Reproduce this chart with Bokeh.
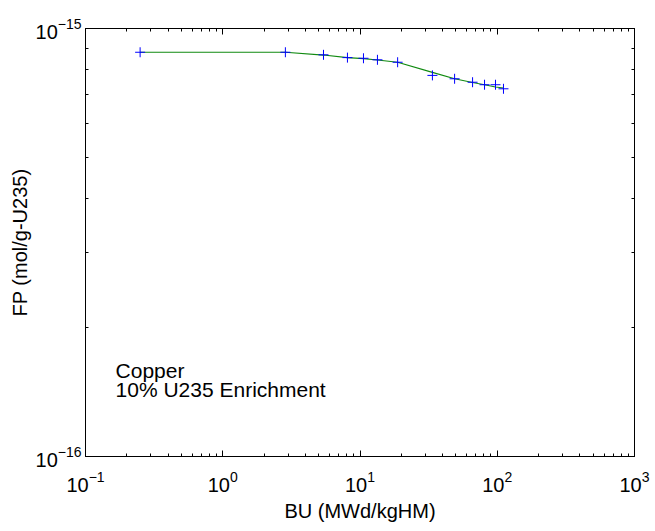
from bokeh.plotting import figure
from bokeh.models import LogAxis, FixedTicker, Label, CustomJSTickFormatter
from bokeh.embed import file_html
from bokeh.resources import INLINE

# Burnup (MWd/kgHM) at the calculated points
bu_points = [0.25, 2.86, 5.42, 8.1, 10.6, 13.4, 18.8, 33.7, 48.9, 66.1, 80.8, 97.1, 111.0]
# FP (mol/g-U235) at the calculated points
fp_points = [8.80e-16, 8.80e-16, 8.68e-16, 8.55e-16, 8.52e-16, 8.45e-16, 8.34e-16,
             7.77e-16, 7.63e-16, 7.49e-16, 7.39e-16, 7.39e-16, 7.23e-16]
# fitted curve (green)
fp_curve = [8.80e-16, 8.80e-16, 8.67e-16, 8.55e-16, 8.50e-16, 8.44e-16, 8.34e-16,
            7.90e-16, 7.63e-16, 7.48e-16, 7.39e-16, 7.30e-16, 7.26e-16]

x_major = [0.1, 1, 10, 100, 1000]
x_minor = [m * d for d in [0.1, 1, 10, 100] for m in range(2, 10)]
y_major = [1e-16, 1e-15]
y_minor = [m * 1e-16 for m in range(2, 10)]

title_lines = ["Copper", "10% U235 Enrichment"]

FONT = "Liberation Sans"

p = figure(width=655, height=531, x_axis_type="log", y_axis_type="log",
           x_range=(0.1, 1000), y_range=(1e-16, 1e-15),
           output_backend="svg", toolbar_location=None,
           min_border_left=85, min_border_right=21, min_border_top=28, min_border_bottom=75,
           x_axis_label="BU (MWd/kgHM)", y_axis_label="FP (mol/g-U235)")
p.grid.visible = False
p.outline_line_color = "black"
p.outline_line_width = 1
p.background_fill_color = "white"
p.border_fill_color = "white"

bottom = p.below[0]
left = p.left[0]
bottom.ticker = FixedTicker(ticks=x_major, minor_ticks=x_minor)
left.ticker = FixedTicker(ticks=y_major, minor_ticks=y_minor)

top = LogAxis(ticker=FixedTicker(ticks=x_major, minor_ticks=x_minor),
              formatter=CustomJSTickFormatter(code="return '';"))
right = LogAxis(ticker=FixedTicker(ticks=y_major, minor_ticks=y_minor),
                formatter=CustomJSTickFormatter(code="return '';"))
p.add_layout(top, "above")
p.add_layout(right, "right")

for ax in [bottom, left, top, right]:
    ax.axis_line_color = "black"
    ax.major_tick_line_color = "black"
    ax.minor_tick_line_color = "black"
    ax.major_tick_in = 6
    ax.major_tick_out = 0
    ax.minor_tick_in = 3
    ax.minor_tick_out = 0
    ax.major_label_text_font = FONT
    ax.major_label_text_font_size = "20px"
    ax.major_label_text_color = "black"
    ax.axis_label_text_font = FONT
    ax.axis_label_text_font_size = "20px"
    ax.axis_label_text_font_style = "normal"
    ax.axis_label_text_color = "black"

for ax in [top, right]:
    ax.major_label_standoff = 0

bottom.major_label_standoff = 14
left.major_label_standoff = 4
bottom.axis_label_standoff = 5
left.axis_label_standoff = 2

p.line(bu_points, fp_curve, line_color="#108a10", line_width=1.2)
p.scatter(bu_points, fp_points, marker="cross", size=10, line_color="#0000ff", line_width=1)

p.add_layout(Label(x=0.1656, y=1.588e-16, text=title_lines[0], text_font=FONT,
                   text_font_size="21px", text_color="black", text_baseline="alphabetic"))
p.add_layout(Label(x=0.1656, y=1.434e-16, text=title_lines[1], text_font=FONT,
                   text_font_size="21px", text_color="black", text_baseline="alphabetic"))

open("out.html", "w").write(file_html(p, INLINE))
